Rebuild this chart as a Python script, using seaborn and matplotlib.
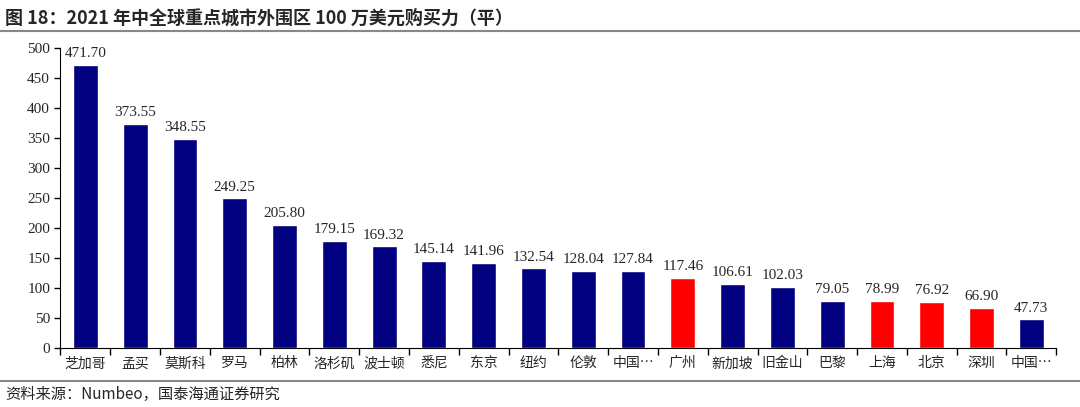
import matplotlib
matplotlib.use("Agg")
import matplotlib.pyplot as plt
import pandas as pd
import seaborn as sns

cities = ["芝加哥", "孟买", "莫斯科", "罗马", "柏林", "洛杉矶", "波士顿", "悉尼", "东京", "纽约",
          "伦敦", "中国…", "广州", "新加坡", "旧金山", "巴黎", "上海", "北京", "深圳", "中国…"]
values = [471.70, 373.55, 348.55, 249.25, 205.80, 179.15, 169.32, 145.14, 141.96, 132.54,
          128.04, 127.84, 117.46, 106.61, 102.03, 79.05, 78.99, 76.92, 66.90, 47.73]
highlight = {12, 16, 17, 18}

sns.set_style("white")
plt.rcParams["font.family"] = ["Liberation Serif", "Noto Sans CJK SC", "DejaVu Sans"]

df = pd.DataFrame({"pos": [str(i) for i in range(len(cities))], "value": values})
colors = ["#ff0000" if i in highlight else "#000080" for i in range(len(cities))]

fig = plt.figure(figsize=(10.8, 4.07), dpi=100)
ax = fig.add_axes([0.056, 0.145, 0.922, 0.737])
sns.barplot(data=df, x="pos", y="value", hue="pos", palette=colors, legend=False,
            width=0.5, ax=ax, saturation=1)

for i, v in enumerate(values):
    ax.text(i, v + 8, f"{v:.2f}", ha="center", va="bottom", fontsize=11)

ax.set_xlim(-0.5, len(cities) - 0.5)
ax.set_ylim(0, 500)
ax.set_yticks(range(0, 501, 50))
ax.set_xticks(range(len(cities)))
ax.set_xticklabels(cities, family=["Noto Sans CJK SC", "DejaVu Sans"], fontsize=10)
ax.set_xticks([i - 0.5 for i in range(len(cities) + 1)], minor=True)
ax.tick_params(axis="x", which="major", bottom=True, length=0, pad=6)
ax.tick_params(axis="x", which="minor", bottom=True, length=5, width=1, direction="out", color="black")
ax.tick_params(axis="y", left=True, length=4, width=1, direction="out", color="black", labelsize=11)
ax.set_xlabel("")
ax.set_ylabel("")
for s in ["top", "right"]:
    ax.spines[s].set_visible(False)
for s in ["left", "bottom"]:
    ax.spines[s].set_color("black")

fig.text(0.005, 0.955, "图 18：2021 年中全球重点城市外围区 100 万美元购买力（平）",
         fontsize=13, fontweight="bold", family=["Noto Sans CJK SC", "DejaVu Sans"], va="center")
fig.add_artist(plt.Line2D([0, 1], [0.925, 0.925], color="#888888", lw=1.5))
fig.add_artist(plt.Line2D([0, 1], [0.065, 0.065], color="#888888", lw=1.5))
fig.text(0.005, 0.03, "资料来源：Numbeo，国泰海通证券研究", fontsize=11,
         family=["Noto Sans CJK SC", "DejaVu Sans"], va="center")

fig.savefig("out.png", dpi=100)
